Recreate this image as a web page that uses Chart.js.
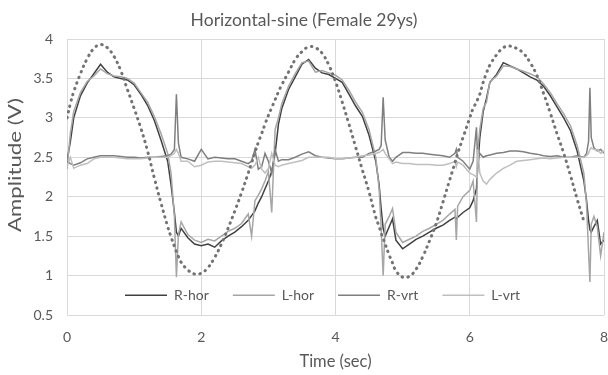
<!DOCTYPE html>
<html>
<head>
<meta charset="utf-8">
<script src="https://cdn.jsdelivr.net/npm/chart.js@4.4.1/dist/chart.umd.min.js"></script>
<style>
  html, body { margin: 0; padding: 0; background: #fff; overflow: hidden; }
  #wrap { width: 608px; height: 375px; }
</style>
</head>
<body>
<div id="wrap"><canvas id="myChart" width="608" height="375"></canvas></div>
<script>
// time axis (sec), finer around the spikes
const times = [
  0, 0.05, 0.1, 0.2, 0.3, 0.4, 0.5, 0.6, 0.7, 0.8,
  0.9, 1.0, 1.1, 1.2, 1.3, 1.4, 1.5, 1.55, 1.6, 1.63,
  1.66, 1.7, 1.8, 1.9, 2.0, 2.1, 2.2, 2.3, 2.4, 2.5,
  2.6, 2.7, 2.75, 2.8, 2.85, 2.9, 2.95, 3.0, 3.05, 3.1,
  3.15, 3.2, 3.3, 3.4, 3.5, 3.6, 3.7, 3.8, 3.9, 4.0,
  4.1, 4.2, 4.3, 4.4, 4.5, 4.6, 4.65, 4.68, 4.71, 4.74,
  4.8, 4.85, 4.9, 5.0, 5.1, 5.2, 5.3, 5.4, 5.5, 5.6,
  5.7, 5.78, 5.8, 5.82, 5.9, 6.0, 6.05, 6.1, 6.12, 6.15,
  6.2, 6.25, 6.3, 6.4, 6.5, 6.6, 6.7, 6.8, 6.9, 7.0,
  7.1, 7.2, 7.3, 7.4, 7.5, 7.6, 7.7, 7.74, 7.77, 7.79,
  7.81, 7.85, 7.9, 7.95, 8.0
]

const rHor = [
  2.45, 2.70, 3.00, 3.28, 3.44, 3.56, 3.68, 3.58, 3.52, 3.50,
  3.48, 3.42, 3.30, 3.16, 2.97, 2.72, 2.45, 2.15, 1.80, 1.55,
  1.50, 1.60, 1.48, 1.40, 1.38, 1.40, 1.36, 1.44, 1.50, 1.55,
  1.62, 1.70, 1.76, 1.82, 1.92, 2.00, 2.10, 2.20, 2.32, 2.55,
  2.92, 3.12, 3.36, 3.52, 3.68, 3.74, 3.63, 3.57, 3.55, 3.50,
  3.45, 3.30, 3.15, 3.02, 2.78, 2.45, 2.15, 1.85, 1.60, 1.50,
  1.62, 1.72, 1.45, 1.34, 1.40, 1.46, 1.50, 1.55, 1.60, 1.64,
  1.70, 1.74, 1.72, 1.74, 1.80, 1.86, 1.95, 2.10, 2.40, 2.75,
  3.08, 3.25, 3.45, 3.55, 3.70, 3.66, 3.62, 3.57, 3.52, 3.48,
  3.40, 3.28, 3.14, 3.00, 2.84, 2.58, 2.20, 1.95, 1.70, 1.58,
  1.55, 1.62, 1.70, 1.40, 1.45
]

const lHor = [
  2.35, 2.80, 3.08, 3.32, 3.46, 3.53, 3.62, 3.56, 3.53, 3.52,
  3.50, 3.44, 3.32, 3.20, 3.02, 2.80, 2.55, 2.30, 1.75, 0.98,
  1.52, 1.68, 1.52, 1.45, 1.42, 1.46, 1.44, 1.50, 1.56, 1.60,
  1.66, 1.78, 1.50, 1.95, 2.02, 2.10, 2.20, 2.32, 1.80, 2.85,
  3.00, 3.18, 3.40, 3.56, 3.70, 3.72, 3.58, 3.60, 3.57, 3.54,
  3.48, 3.35, 3.20, 3.07, 2.85, 2.50, 2.10, 1.60, 1.00, 1.65,
  1.75, 1.85, 1.55, 1.42, 1.46, 1.50, 1.56, 1.60, 1.65, 1.70,
  1.78, 1.84, 1.45, 1.88, 2.00, 2.08, 2.20, 1.68, 2.60, 2.85,
  3.12, 3.20, 3.46, 3.53, 3.66, 3.65, 3.62, 3.59, 3.56, 3.52,
  3.43, 3.32, 3.18, 3.05, 2.90, 2.65, 2.30, 1.90, 1.30, 0.92,
  1.65, 1.75, 1.62, 1.25, 1.55
]

const rVrt = [
  2.45, 2.42, 2.40, 2.43, 2.48, 2.50, 2.52, 2.52, 2.52, 2.51,
  2.50, 2.50, 2.49, 2.50, 2.50, 2.51, 2.52, 2.54, 2.60, 3.30,
  2.68, 2.50, 2.48, 2.45, 2.60, 2.48, 2.50, 2.49, 2.48, 2.48,
  2.45, 2.42, 2.45, 2.60, 2.35, 2.38, 2.55, 2.45, 2.30, 2.60,
  2.45, 2.47, 2.47, 2.50, 2.54, 2.57, 2.52, 2.50, 2.49, 2.48,
  2.48, 2.49, 2.50, 2.50, 2.55, 2.58, 2.60, 2.65, 3.26, 2.72,
  2.50, 2.45, 2.50, 2.56, 2.56, 2.55, 2.55, 2.54, 2.53, 2.52,
  2.50, 2.55, 2.60, 2.50, 2.45, 2.35, 2.45, 2.88, 2.40, 2.55,
  2.50, 2.52, 2.53, 2.55, 2.56, 2.58, 2.58, 2.57, 2.55, 2.54,
  2.52, 2.51, 2.52, 2.50, 2.50, 2.52, 2.50, 2.55, 2.70, 3.38,
  2.75, 2.62, 2.58, 2.60, 2.55
]

const lVrt = [
  2.38, 2.50, 2.36, 2.40, 2.42, 2.48, 2.50, 2.50, 2.50, 2.49,
  2.48, 2.48, 2.48, 2.49, 2.50, 2.50, 2.50, 2.52, 2.55, 2.60,
  2.55, 2.45, 2.45, 2.38, 2.40, 2.44, 2.45, 2.45, 2.44, 2.43,
  2.42, 2.38, 2.36, 2.40, 2.50, 2.35, 2.30, 2.36, 2.55, 2.40,
  2.38, 2.40, 2.42, 2.44, 2.46, 2.50, 2.50, 2.50, 2.50, 2.48,
  2.48, 2.49, 2.50, 2.52, 2.53, 2.55, 2.56, 2.58, 2.60, 2.55,
  2.48, 2.42, 2.44, 2.42, 2.42, 2.41, 2.41, 2.41, 2.40, 2.40,
  2.42, 2.45, 2.38, 2.44, 2.40, 2.30, 2.28, 2.25, 2.60, 2.30,
  2.20, 2.16, 2.22, 2.30, 2.36, 2.40, 2.45, 2.46, 2.47, 2.48,
  2.49, 2.48, 2.49, 2.50, 2.50, 2.50, 2.50, 2.52, 2.55, 2.60,
  2.62, 2.60, 2.60, 2.55, 2.58
]

// reference sine (dotted), stops near 7.7 s
const sine = [
  3.00, 3.18, 3.33, 3.56, 3.75, 3.88, 3.93, 3.89, 3.78, 3.60,
  3.36, 3.12, 2.87, 2.58, 2.24, 1.92, 1.62, 1.49, 1.37, 1.30,
  1.24, 1.17, 1.07, 1.02, 1.03, 1.10, 1.23, 1.40, 1.60, 1.82,
  2.05, 2.30, 2.43, 2.56, 2.69, 2.80, 2.92, 3.03, 3.13, 3.23,
  3.33, 3.42, 3.58, 3.74, 3.84, 3.90, 3.89, 3.82, 3.67, 3.46,
  3.20, 2.92, 2.63, 2.34, 2.06, 1.74, 1.62, 1.54, 1.47, 1.40,
  1.26, 1.16, 1.06, 0.98, 0.99, 1.08, 1.24, 1.44, 1.66, 1.93,
  2.21, 2.43, 2.49, 2.55, 2.75, 3.00, 3.12, 3.20, 3.24, 3.30,
  3.45, 3.57, 3.67, 3.80, 3.89, 3.91, 3.88, 3.82, 3.70, 3.54,
  3.31, 3.06, 2.80, 2.55, 2.27, 1.97, 1.69, null, null, null,
  null, null, null, null, null
]

const xTicks = [0, 2, 4, 6, 8]
const yTicks = [0.5, 1, 1.5, 2, 2.5, 3, 3.5, 4]

const fontName = 'Lato, "Open Sans", sans-serif'
const textColor = '#595959'
const yTitle = 'Amplitude (V)'

function toPoints(values) {
  return times.map((t, i) => ({ x: t, y: values[i] }))
}

function signal(label, values, color, order) {
  return {
    label: label,
    data: toPoints(values),
    borderColor: color,
    backgroundColor: color,
    borderWidth: 1.5,
    pointRadius: 0,
    tension: 0,
    order: order
  }
}

// legend sits inside the plot, just above the x axis; y title drawn by hand too
const insideLegend = {
  id: 'insideLegend',
  afterDraw(chart) {
    const ctx = chart.ctx
    const y = chart.scales.y.getPixelForValue(0.75)
    let x = 125
    ctx.save()
    ctx.font = '14px ' + fontName
    ctx.textBaseline = 'middle'
    ctx.textAlign = 'left'
    chart.data.datasets.forEach((ds) => {
      if (ds.label === 'sine') return
      ctx.strokeStyle = ds.borderColor
      ctx.lineWidth = 1.5
      ctx.beginPath()
      ctx.moveTo(x, y)
      ctx.lineTo(x + 42, y)
      ctx.stroke()
      ctx.fillStyle = textColor
      ctx.fillText(ds.label, x + 49, y)
      x += 49 + ctx.measureText(ds.label).width + 24
    })

    // the picture is a bit stretched vertically, so is this title
    ctx.translate(16, 165)
    ctx.rotate(-Math.PI / 2)
    ctx.scale(1.35, 1)
    ctx.font = '16.5px ' + fontName
    ctx.textAlign = 'center'
    ctx.fillText(yTitle, 0, 0)
    ctx.restore()
  }
}

const ctx = document.getElementById('myChart')

new Chart(ctx, {
  type: 'line',
  data: {
    datasets: [
      signal('R-hor', rHor, '#404040', 4),
      signal('L-hor', lHor, '#a6a6a6', 3),
      signal('R-vrt', rVrt, '#7f7f7f', 2),
      signal('L-vrt', lVrt, '#bfbfbf', 1),
      {
        label: 'sine',
        data: toPoints(sine),
        borderColor: '#737373',
        borderWidth: 3,
        borderDash: [0.5, 5.5],
        borderCapStyle: 'round',
        pointRadius: 0,
        tension: 0.4,
        spanGaps: false,
        order: 0
      }
    ]
  },
  options: {
    responsive: false,
    devicePixelRatio: 1,
    animation: false,
    layout: { padding: 0 },
    plugins: {
      legend: { display: false },
      tooltip: { enabled: false },
      title: {
        display: true,
        text: 'Horizontal-sine (Female 29ys)',
        color: textColor,
        font: { family: fontName, size: 17.5, weight: 'normal' },
        padding: { top: 9.5, bottom: 8.5 }
      }
    },
    scales: {
      x: {
        type: 'linear',
        min: 0,
        max: 8,
        afterBuildTicks(scale) {
          scale.ticks = xTicks.map((v) => ({ value: v }))
        },
        afterFit(scale) {
          scale.height = 60
          scale.paddingRight = 4
        },
        grid: { color: '#d9d9d9', drawTicks: false },
        border: { display: false },
        ticks: {
          color: textColor,
          padding: 14,
          maxRotation: 0,
          font: { family: fontName, size: 14 }
        },
        title: {
          display: true,
          text: 'Time (sec)',
          color: textColor,
          font: { family: fontName, size: 16.5 },
          padding: { top: 4, bottom: 3 }
        }
      },
      y: {
        type: 'linear',
        min: 0.5,
        max: 4,
        afterBuildTicks(scale) {
          scale.ticks = yTicks.map((v) => ({ value: v }))
        },
        afterFit(scale) {
          scale.width = 67
        },
        grid: { color: '#d9d9d9', drawTicks: false },
        border: { display: false },
        ticks: {
          color: textColor,
          padding: 14,
          font: { family: fontName, size: 14 },
          callback: (value) => String(value)
        }
      }
    }
  },
  plugins: [insideLegend]
})
</script>
</body>
</html>
